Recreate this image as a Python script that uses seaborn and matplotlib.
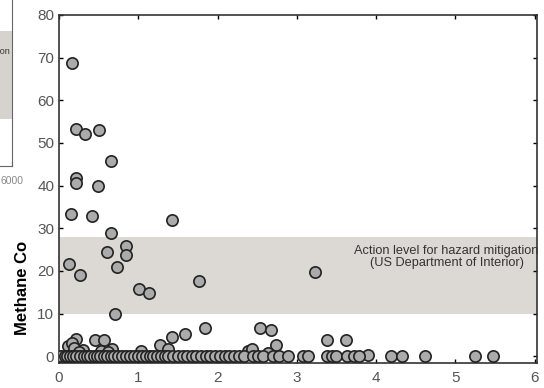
import numpy as np
import pandas as pd
import matplotlib
matplotlib.use('Agg')
import matplotlib.pyplot as plt
import seaborn as sns

# points (distance, methane)
upper_x = [0.16, 0.21, 0.33, 0.51, 0.65, 0.21, 0.21, 0.49, 0.15, 0.41, 1.42, 0.65,
           0.84, 0.85, 0.60, 0.13, 0.73, 0.27, 1.76, 1.01, 1.13, 0.71, 3.23]
upper_y = [68.8, 53.3, 52.1, 53.0, 45.8, 41.8, 40.6, 39.9, 33.3, 32.9, 31.9, 29.0,
           25.9, 23.7, 24.5, 21.6, 20.8, 19.0, 17.6, 15.7, 14.8, 9.8, 19.8]

low_x = [1.84, 1.59, 1.42, 1.27, 1.38, 0.22, 0.45, 0.57, 0.11, 0.17, 0.30, 0.67,
         0.53, 1.03, 2.39, 2.53, 2.68, 2.74, 3.38, 3.62, 2.43, 2.64, 3.90, 0.19,
         0.25, 0.62]
low_y = [6.5, 5.2, 4.4, 2.6, 1.8, 4.1, 3.7, 3.7, 2.3, 3.0, 1.4, 1.8,
         1.2, 1.2, 1.2, 6.7, 6.1, 2.7, 3.9, 3.9, 1.6, 0.8, 0.2, 2.0,
         1.0, 1.0]

zero_x = [0.03, 0.07, 0.10, 0.14, 0.18, 0.22, 0.26, 0.31, 0.35, 0.39, 0.44, 0.48,
          0.52, 0.57, 0.61, 0.66, 0.70, 0.75, 0.80, 0.85, 0.90, 0.95, 1.00, 1.05,
          1.10, 1.15, 1.19, 1.24, 1.29, 1.34, 1.38, 1.44, 1.50, 1.56, 1.62, 1.68,
          1.73, 1.79, 1.85, 1.91, 1.97, 2.03, 2.09, 2.15, 2.21, 2.27, 2.33, 2.45,
          2.51, 2.57, 2.70, 2.78, 2.89, 3.08, 3.14, 3.38, 3.44, 3.50, 3.63, 3.72,
          3.78, 4.19, 4.33, 4.62, 5.25, 5.48]
zero_y = [0.0] * len(zero_x)

band_low, band_high = 10, 28
band_text = 'Action level for hazard mitigation\n(US Department of Interior)'

df = pd.DataFrame({'x': upper_x + low_x + zero_x, 'y': upper_y + low_y + zero_y})

plt.rcParams['font.family'] = ['Liberation Sans', 'DejaVu Sans']
fig = plt.figure(figsize=(5.44, 3.88), dpi=100)

# sliver of the neighbouring panel on the left (mostly outside the figure)
ax0 = fig.add_axes([-0.5, 1 - 166 / 388, 0.5 + 12 / 544, 0.6])
ax0.set_xlim(0, 6000)
ax0.set_ylim(0, 10)
ax0.axhspan(2.0, 5.8, color='#d6d3cf', lw=0)
ax0.text(5950, 4.9, 'Action level for hazard mitigation', ha='right', va='center',
         fontsize=6.5, color='#333333')
ax0.set_xticks([6000])
ax0.set_xticklabels(['6000'], fontsize=7.5, color='#888888')
ax0.set_yticks([])
for s in ax0.spines.values():
    s.set_color('#666666')
ax0.spines['left'].set_visible(False)
ax0.tick_params(axis='x', direction='in', length=3, pad=7)

ax = fig.add_axes([59 / 544, 1 - 363 / 388, 478 / 544, 348 / 388])
ax.axhspan(band_low, band_high, color='#dcd9d5', lw=0, zorder=0)
sns.scatterplot(data=df, x='x', y='y', ax=ax, s=66, color='#ababab',
                edgecolor='#222222', linewidth=1.2, zorder=3, legend=False)
ax.text(4.89, 23.2, band_text, ha='center', va='center', fontsize=9.2,
        color='#333333', linespacing=1.0)

ax.set_xlim(0, 6.03)
ax.set_ylim(-1.6, 80)
ax.set_xticks(range(0, 7))
ax.set_yticks(range(0, 81, 10))
ax.set_xlabel('')
ax.set_ylabel('')
ax.tick_params(direction='in', length=3, labelsize=11, labelcolor='#555555',
               top=True, right=True, width=1)
ax.tick_params(axis='x', pad=6)
for s in ax.spines.values():
    s.set_color('#333333')
    s.set_linewidth(1.2)

fig.text(23 / 544, 1 - 288 / 388, 'Methane Co', rotation=90, ha='center', va='center',
         fontsize=12, fontweight='bold')

fig.savefig('out.png', dpi=100)
